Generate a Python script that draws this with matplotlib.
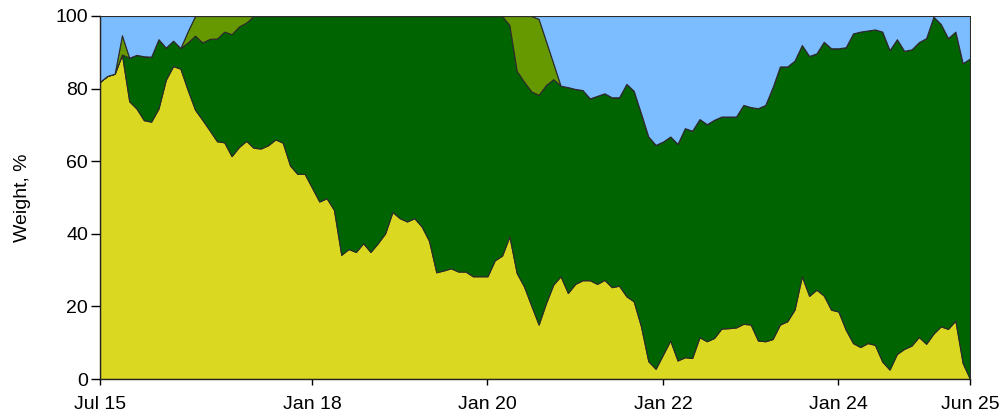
import numpy as np
import matplotlib
matplotlib.use('Agg')
import matplotlib.pyplot as plt

plt.rcParams['font.family'] = ['Liberation Sans', 'DejaVu Sans']

# monthly weights, Jul 2015 .. Jun 2025 (120 points)
yellow = [
    81.9, 83.5, 84.1, 89.4, 76.5, 74.5, 71.3, 70.9, 74.5, 82.4,
    86.2, 85.5, 79.6, 74.2, 71.4, 68.5, 65.5, 65.2, 61.4, 63.9,
    65.6, 63.7, 63.5, 64.4, 66.0, 65.1, 58.8, 56.5, 56.5, 52.7,
    48.9, 49.8, 46.6, 34.2, 35.8, 35.0, 37.4, 35.0, 37.4, 40.1,
    46.0, 44.3, 43.4, 44.3, 42.0, 38.1, 29.4, 29.9, 30.5, 29.6,
    29.6, 28.3, 28.3, 28.3, 32.7, 34.0, 39.3, 29.2, 25.5, 20.2,
    15.0, 20.9, 26.0, 28.3, 23.7, 26.2, 27.2, 27.2, 26.2, 27.3,
    25.3, 25.7, 22.8, 21.4, 14.5, 4.9, 2.8, 6.7, 10.6, 5.1,
    6.0, 5.8, 11.5, 10.4, 11.3, 13.9, 14.0, 14.2, 15.2, 15.0,
    10.6, 10.4, 11.0, 15.0, 15.9, 19.1, 28.3, 22.9, 24.6, 23.0,
    19.1, 18.6, 13.6, 9.9, 8.8, 9.9, 9.4, 4.8, 2.6, 6.9,
    8.3, 9.2, 11.6, 9.7, 12.5, 14.5, 13.8, 16.1, 4.4, 0.0,
]
dark_green = [
    0.0, 0.0, 0.0, 0.0, 12.0, 14.8, 17.6, 17.9, 19.1, 8.9,
    7.0, 5.7, 13.1, 20.4, 21.3, 25.2, 28.3, 30.5, 33.6, 33.2,
    32.6, 36.3, 36.5, 35.6, 34.0, 34.9, 41.2, 43.5, 43.5, 47.3,
    51.1, 50.2, 53.4, 65.8, 64.2, 65.0, 62.6, 65.0, 62.6, 59.9,
    54.0, 55.7, 56.6, 55.7, 58.0, 61.9, 70.6, 70.1, 69.5, 70.4,
    70.4, 71.7, 71.7, 71.7, 67.3, 66.0, 58.2, 55.7, 56.4, 59.0,
    63.3, 60.1, 56.6, 52.5, 56.7, 53.7, 52.4, 50.1, 51.8, 51.4,
    52.3, 51.9, 58.5, 58.0, 58.7, 61.9, 61.7, 58.7, 56.2, 59.7,
    63.1, 62.6, 60.1, 59.8, 60.1, 58.4, 58.3, 58.1, 60.3, 59.9,
    64.0, 65.1, 69.4, 71.1, 70.2, 68.6, 63.7, 66.1, 65.1, 69.9,
    72.0, 72.5, 77.8, 85.3, 86.9, 86.1, 86.9, 90.9, 88.0, 86.7,
    82.1, 81.6, 81.2, 84.2, 87.3, 83.3, 80.1, 79.6, 82.6, 88.3,
]
olive = [
    0.0, 0.0, 0.0, 5.3, 0.0, 0.0, 0.0, 0.0, 0.0, 0.0,
    0.0, 0.0, 3.1, 5.4, 7.3, 6.3, 6.2, 4.3, 5.0, 2.9,
    1.8, 0.0, 0.0, 0.0, 0.0, 0.0, 0.0, 0.0, 0.0, 0.0,
    0.0, 0.0, 0.0, 0.0, 0.0, 0.0, 0.0, 0.0, 0.0, 0.0,
    0.0, 0.0, 0.0, 0.0, 0.0, 0.0, 0.0, 0.0, 0.0, 0.0,
    0.0, 0.0, 0.0, 0.0, 0.0, 0.0, 2.5, 15.1, 18.1, 20.8,
    20.9, 12.1, 4.4, 0.0, 0.0, 0.0, 0.0, 0.0, 0.0, 0.0,
    0.0, 0.0, 0.0, 0.0, 0.0, 0.0, 0.0, 0.0, 0.0, 0.0,
    0.0, 0.0, 0.0, 0.0, 0.0, 0.0, 0.0, 0.0, 0.0, 0.0,
    0.0, 0.0, 0.0, 0.0, 0.0, 0.0, 0.0, 0.0, 0.0, 0.0,
    0.0, 0.0, 0.0, 0.0, 0.0, 0.0, 0.0, 0.0, 0.0, 0.0,
    0.0, 0.0, 0.0, 0.0, 0.0, 0.0, 0.0, 0.0, 0.0, 0.0,
]
light_blue = [
    18.1, 16.5, 15.9, 5.3, 11.5, 10.7, 11.1, 11.2, 6.4, 8.7,
    6.8, 8.8, 4.2, 0.0, 0.0, 0.0, 0.0, 0.0, 0.0, 0.0,
    0.0, 0.0, 0.0, 0.0, 0.0, 0.0, 0.0, 0.0, 0.0, 0.0,
    0.0, 0.0, 0.0, 0.0, 0.0, 0.0, 0.0, 0.0, 0.0, 0.0,
    0.0, 0.0, 0.0, 0.0, 0.0, 0.0, 0.0, 0.0, 0.0, 0.0,
    0.0, 0.0, 0.0, 0.0, 0.0, 0.0, 0.0, 0.0, 0.0, 0.0,
    0.8, 6.9, 13.0, 19.2, 19.6, 20.1, 20.4, 22.7, 22.0, 21.3,
    22.4, 22.4, 18.7, 20.6, 26.8, 33.2, 35.5, 34.6, 33.2, 35.2,
    30.9, 31.6, 28.4, 29.8, 28.6, 27.7, 27.7, 27.7, 24.5, 25.1,
    25.4, 24.5, 19.6, 13.9, 13.9, 12.3, 8.0, 11.0, 10.3, 7.1,
    8.9, 8.9, 8.6, 4.8, 4.3, 4.0, 3.7, 4.3, 9.4, 6.4,
    9.6, 9.2, 7.2, 6.1, 0.2, 2.2, 6.1, 4.3, 13.0, 11.7,
]

tick_pos = [0, 29, 53, 77, 101, 119]
tick_labels = ['Jul 15', 'Jan 18', 'Jan 20', 'Jan 22', 'Jan 24', 'Jun 25']
y_ticks = [0, 20, 40, 60, 80, 100]

colors = ['#DAD820', '#006400', '#669900', '#7BBDFF']

fig = plt.figure(figsize=(10.05, 4.18), dpi=100)
ax = fig.add_axes([100 / 1005, 39 / 418, 870 / 1005, 363 / 418])

x = np.arange(len(yellow))
ax.stackplot(x, yellow, dark_green, olive, light_blue, colors=colors,
             edgecolor='#2b2b2b', linewidth=0.8)

ax.set_xlim(0, len(yellow) - 1)
ax.set_ylim(0, 100)
ax.set_xticks(tick_pos)
ax.set_xticklabels(tick_labels)
ax.set_yticks(y_ticks)
ax.set_ylabel('Weight, %', fontsize=14, labelpad=18)

ax.tick_params(axis='y', direction='out', length=6.5, width=1, pad=2, labelsize=14)
ax.tick_params(axis='x', direction='out', length=4, width=1, pad=8, labelsize=14)
for side in ['top', 'right']:
    ax.spines[side].set_linewidth(0.7)
    ax.spines[side].set_color('#2b2b2b')
for side in ['left', 'bottom']:
    ax.spines[side].set_linewidth(1)
    ax.spines[side].set_color('#222222')

fig.savefig('out.png', dpi=100, facecolor='white')
